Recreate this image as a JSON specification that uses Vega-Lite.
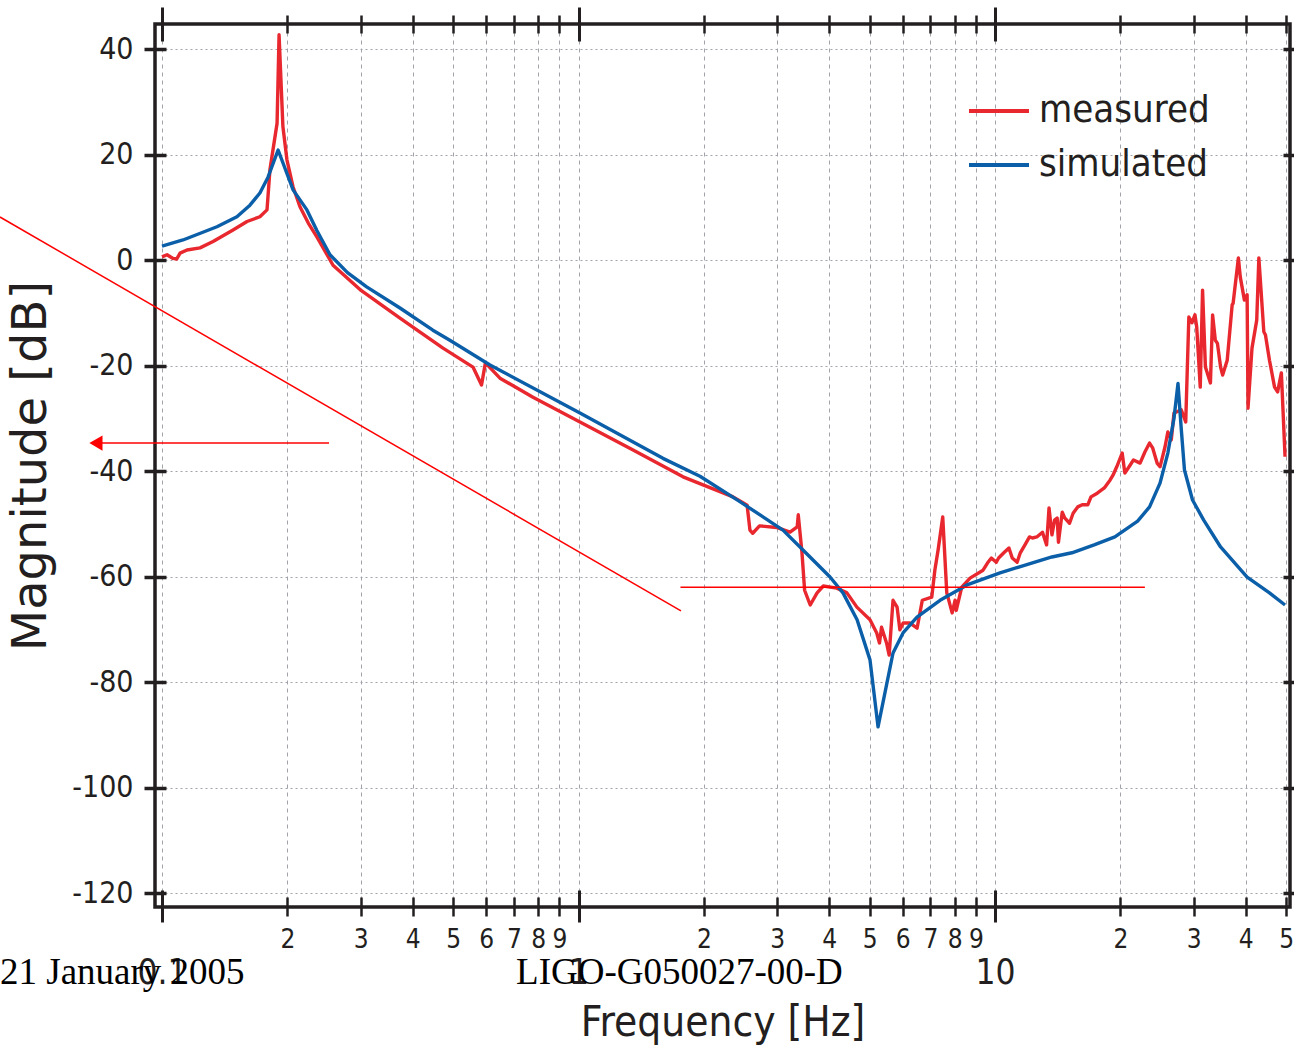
{
  "$schema": "https://vega.github.io/schema/vega-lite/v6.json",
  "width": 1135,
  "height": 883,
  "autosize": {"type": "none"},
  "padding": {"left": 155, "top": 24, "right": 4, "bottom": 146},
  "background": "white",
  "config": {
    "view": {"stroke": "#231f20", "strokeWidth": 3.5},
    "axis": {
      "domain": false,
      "gridColor": "#a0a4aa",
      "gridWidth": 1,
      "tickColor": "#231f20",
      "labelColor": "#231f20",
      "titleColor": "#231f20",
      "labelFont": "DejaVu Sans Condensed, Liberation Sans, sans-serif",
      "titleFont": "DejaVu Sans Condensed, Liberation Sans, sans-serif",
      "titleFontWeight": "normal",
      "labelFlush": false,
      "labelOverlap": false
    }
  },
  "resolve": {"axis": {"x": "independent", "y": "independent"}},
  "layer": [
    {
      "data": {"values": [
        {"f":0.1,"dB":0.6,"series":"measured"},
        {"f":0.1028,"dB":1.0,"series":"measured"},
        {"f":0.1063,"dB":0.3,"series":"measured"},
        {"f":0.1085,"dB":0.2,"series":"measured"},
        {"f":0.1105,"dB":1.3,"series":"measured"},
        {"f":0.1148,"dB":1.9,"series":"measured"},
        {"f":0.1234,"dB":2.3,"series":"measured"},
        {"f":0.1326,"dB":3.5,"series":"measured"},
        {"f":0.1481,"dB":5.7,"series":"measured"},
        {"f":0.16,"dB":7.3,"series":"measured"},
        {"f":0.1718,"dB":8.2,"series":"measured"},
        {"f":0.1787,"dB":9.5,"series":"measured"},
        {"f":0.1816,"dB":17.1,"series":"measured"},
        {"f":0.1889,"dB":25.9,"series":"measured"},
        {"f":0.191,"dB":42.7,"series":"measured"},
        {"f":0.1951,"dB":25.3,"series":"measured"},
        {"f":0.1995,"dB":19.0,"series":"measured"},
        {"f":0.2063,"dB":13.9,"series":"measured"},
        {"f":0.2144,"dB":10.1,"series":"measured"},
        {"f":0.2245,"dB":7.0,"series":"measured"},
        {"f":0.2354,"dB":4.4,"series":"measured"},
        {"f":0.2574,"dB":-1.0,"series":"measured"},
        {"f":0.2988,"dB":-5.6,"series":"measured"},
        {"f":0.3727,"dB":-11.0,"series":"measured"},
        {"f":0.4728,"dB":-16.7,"series":"measured"},
        {"f":0.558,"dB":-20.3,"series":"measured"},
        {"f":0.585,"dB":-23.7,"series":"measured"},
        {"f":0.5977,"dB":-19.5,"series":"measured"},
        {"f":0.6477,"dB":-22.4,"series":"measured"},
        {"f":0.7775,"dB":-26.0,"series":"measured"},
        {"f":1.008,"dB":-30.7,"series":"measured"},
        {"f":1.352,"dB":-36.0,"series":"measured"},
        {"f":1.782,"dB":-41.1,"series":"measured"},
        {"f":2.35,"dB":-44.9,"series":"measured"},
        {"f":2.47,"dB":-45.9,"series":"measured"},
        {"f":2.54,"dB":-46.5,"series":"measured"},
        {"f":2.58,"dB":-51.2,"series":"measured"},
        {"f":2.62,"dB":-51.8,"series":"measured"},
        {"f":2.72,"dB":-50.4,"series":"measured"},
        {"f":2.99,"dB":-50.7,"series":"measured"},
        {"f":3.22,"dB":-51.6,"series":"measured"},
        {"f":3.35,"dB":-50.6,"series":"measured"},
        {"f":3.37,"dB":-48.3,"series":"measured"},
        {"f":3.44,"dB":-55.5,"series":"measured"},
        {"f":3.49,"dB":-62.6,"series":"measured"},
        {"f":3.6,"dB":-65.4,"series":"measured"},
        {"f":3.74,"dB":-63.1,"series":"measured"},
        {"f":3.87,"dB":-61.8,"series":"measured"},
        {"f":4.17,"dB":-62.2,"series":"measured"},
        {"f":4.41,"dB":-63.1,"series":"measured"},
        {"f":4.66,"dB":-65.8,"series":"measured"},
        {"f":5.01,"dB":-68.2,"series":"measured"},
        {"f":5.2,"dB":-70.7,"series":"measured"},
        {"f":5.28,"dB":-72.6,"series":"measured"},
        {"f":5.34,"dB":-69.6,"series":"measured"},
        {"f":5.49,"dB":-72.6,"series":"measured"},
        {"f":5.57,"dB":-74.9,"series":"measured"},
        {"f":5.69,"dB":-64.5,"series":"measured"},
        {"f":5.82,"dB":-65.8,"series":"measured"},
        {"f":5.91,"dB":-70.1,"series":"measured"},
        {"f":6.02,"dB":-68.8,"series":"measured"},
        {"f":6.24,"dB":-68.8,"series":"measured"},
        {"f":6.5,"dB":-69.8,"series":"measured"},
        {"f":6.69,"dB":-64.5,"series":"measured"},
        {"f":7.05,"dB":-63.9,"series":"measured"},
        {"f":7.17,"dB":-58.8,"series":"measured"},
        {"f":7.3,"dB":-55.0,"series":"measured"},
        {"f":7.49,"dB":-48.7,"series":"measured"},
        {"f":7.66,"dB":-63.1,"series":"measured"},
        {"f":7.89,"dB":-66.9,"series":"measured"},
        {"f":8.02,"dB":-64.5,"series":"measured"},
        {"f":8.07,"dB":-66.4,"series":"measured"},
        {"f":8.32,"dB":-62.0,"series":"measured"},
        {"f":8.71,"dB":-60.3,"series":"measured"},
        {"f":9.36,"dB":-58.8,"series":"measured"},
        {"f":9.6,"dB":-57.4,"series":"measured"},
        {"f":9.8,"dB":-56.5,"series":"measured"},
        {"f":10.07,"dB":-57.3,"series":"measured"},
        {"f":10.2,"dB":-56.5,"series":"measured"},
        {"f":10.5,"dB":-55.5,"series":"measured"},
        {"f":10.8,"dB":-54.6,"series":"measured"},
        {"f":11.0,"dB":-56.5,"series":"measured"},
        {"f":11.3,"dB":-57.3,"series":"measured"},
        {"f":11.5,"dB":-55.5,"series":"measured"},
        {"f":11.8,"dB":-54.0,"series":"measured"},
        {"f":12.1,"dB":-52.5,"series":"measured"},
        {"f":12.3,"dB":-52.7,"series":"measured"},
        {"f":12.6,"dB":-52.5,"series":"measured"},
        {"f":13.0,"dB":-51.6,"series":"measured"},
        {"f":13.3,"dB":-54.0,"series":"measured"},
        {"f":13.48,"dB":-47.0,"series":"measured"},
        {"f":13.7,"dB":-52.1,"series":"measured"},
        {"f":13.9,"dB":-49.3,"series":"measured"},
        {"f":14.1,"dB":-48.9,"series":"measured"},
        {"f":14.2,"dB":-53.5,"series":"measured"},
        {"f":14.5,"dB":-47.8,"series":"measured"},
        {"f":14.7,"dB":-48.9,"series":"measured"},
        {"f":15.1,"dB":-49.9,"series":"measured"},
        {"f":15.4,"dB":-48.0,"series":"measured"},
        {"f":15.8,"dB":-46.8,"series":"measured"},
        {"f":16.2,"dB":-46.4,"series":"measured"},
        {"f":16.7,"dB":-46.4,"series":"measured"},
        {"f":17.0,"dB":-44.9,"series":"measured"},
        {"f":17.6,"dB":-44.2,"series":"measured"},
        {"f":18.3,"dB":-43.2,"series":"measured"},
        {"f":18.9,"dB":-41.7,"series":"measured"},
        {"f":19.2,"dB":-40.8,"series":"measured"},
        {"f":19.6,"dB":-39.2,"series":"measured"},
        {"f":20.2,"dB":-36.6,"series":"measured"},
        {"f":20.5,"dB":-40.4,"series":"measured"},
        {"f":21.1,"dB":-38.9,"series":"measured"},
        {"f":21.5,"dB":-37.9,"series":"measured"},
        {"f":22.3,"dB":-38.5,"series":"measured"},
        {"f":22.9,"dB":-36.4,"series":"measured"},
        {"f":23.5,"dB":-34.7,"series":"measured"},
        {"f":23.9,"dB":-35.6,"series":"measured"},
        {"f":24.5,"dB":-38.5,"series":"measured"},
        {"f":24.9,"dB":-39.2,"series":"measured"},
        {"f":25.6,"dB":-35.4,"series":"measured"},
        {"f":26.0,"dB":-32.6,"series":"measured"},
        {"f":26.5,"dB":-34.1,"series":"measured"},
        {"f":26.9,"dB":-29.0,"series":"measured"},
        {"f":28.0,"dB":-28.4,"series":"measured"},
        {"f":28.7,"dB":-30.7,"series":"measured"},
        {"f":29.2,"dB":-10.8,"series":"measured"},
        {"f":29.7,"dB":-11.9,"series":"measured"},
        {"f":30.2,"dB":-10.4,"series":"measured"},
        {"f":30.5,"dB":-12.7,"series":"measured"},
        {"f":31.1,"dB":-24.1,"series":"measured"},
        {"f":31.5,"dB":-5.7,"series":"measured"},
        {"f":32.0,"dB":-20.3,"series":"measured"},
        {"f":32.9,"dB":-23.3,"series":"measured"},
        {"f":33.3,"dB":-10.4,"series":"measured"},
        {"f":33.8,"dB":-15.2,"series":"measured"},
        {"f":34.2,"dB":-15.8,"series":"measured"},
        {"f":34.8,"dB":-20.3,"series":"measured"},
        {"f":35.2,"dB":-21.8,"series":"measured"},
        {"f":36.1,"dB":-19.0,"series":"measured"},
        {"f":37.1,"dB":-8.5,"series":"measured"},
        {"f":37.3,"dB":-8.2,"series":"measured"},
        {"f":38.4,"dB":0.4,"series":"measured"},
        {"f":38.8,"dB":-3.2,"series":"measured"},
        {"f":39.7,"dB":-7.6,"series":"measured"},
        {"f":40.3,"dB":-6.6,"series":"measured"},
        {"f":40.5,"dB":-28.1,"series":"measured"},
        {"f":41.4,"dB":-16.7,"series":"measured"},
        {"f":42.5,"dB":-11.4,"series":"measured"},
        {"f":43.0,"dB":0.4,"series":"measured"},
        {"f":44.2,"dB":-13.6,"series":"measured"},
        {"f":44.6,"dB":-14.2,"series":"measured"},
        {"f":45.6,"dB":-19.0,"series":"measured"},
        {"f":46.9,"dB":-24.1,"series":"measured"},
        {"f":47.7,"dB":-25.0,"series":"measured"},
        {"f":48.7,"dB":-21.4,"series":"measured"},
        {"f":48.9,"dB":-24.6,"series":"measured"},
        {"f":49.7,"dB":-37.3,"series":"measured"},
        {"f":0.1,"dB":2.65,"series":"simulated"},
        {"f":0.1123,"dB":3.8,"series":"simulated"},
        {"f":0.1355,"dB":6.3,"series":"simulated"},
        {"f":0.1513,"dB":8.2,"series":"simulated"},
        {"f":0.1626,"dB":10.4,"series":"simulated"},
        {"f":0.1718,"dB":12.7,"series":"simulated"},
        {"f":0.1797,"dB":15.7,"series":"simulated"},
        {"f":0.19,"dB":20.85,"series":"simulated"},
        {"f":0.2064,"dB":13.3,"series":"simulated"},
        {"f":0.2228,"dB":9.5,"series":"simulated"},
        {"f":0.2354,"dB":5.6,"series":"simulated"},
        {"f":0.2531,"dB":1.0,"series":"simulated"},
        {"f":0.2788,"dB":-2.4,"series":"simulated"},
        {"f":0.31,"dB":-5.1,"series":"simulated"},
        {"f":0.3727,"dB":-9.1,"series":"simulated"},
        {"f":0.447,"dB":-13.3,"series":"simulated"},
        {"f":0.491,"dB":-15.2,"series":"simulated"},
        {"f":0.613,"dB":-19.9,"series":"simulated"},
        {"f":1.008,"dB":-29.0,"series":"simulated"},
        {"f":1.595,"dB":-37.6,"series":"simulated"},
        {"f":1.957,"dB":-41.0,"series":"simulated"},
        {"f":2.44,"dB":-45.8,"series":"simulated"},
        {"f":3.097,"dB":-51.2,"series":"simulated"},
        {"f":3.596,"dB":-56.3,"series":"simulated"},
        {"f":4.017,"dB":-60.1,"series":"simulated"},
        {"f":4.315,"dB":-63.1,"series":"simulated"},
        {"f":4.665,"dB":-68.2,"series":"simulated"},
        {"f":5.01,"dB":-75.8,"series":"simulated"},
        {"f":5.238,"dB":-88.5,"series":"simulated"},
        {"f":5.69,"dB":-74.5,"series":"simulated"},
        {"f":6.014,"dB":-70.7,"series":"simulated"},
        {"f":6.496,"dB":-67.7,"series":"simulated"},
        {"f":7.38,"dB":-64.5,"series":"simulated"},
        {"f":8.567,"dB":-61.6,"series":"simulated"},
        {"f":10.28,"dB":-59.3,"series":"simulated"},
        {"f":11.4,"dB":-58.2,"series":"simulated"},
        {"f":13.7,"dB":-56.3,"series":"simulated"},
        {"f":15.3,"dB":-55.5,"series":"simulated"},
        {"f":17.3,"dB":-54.0,"series":"simulated"},
        {"f":19.4,"dB":-52.5,"series":"simulated"},
        {"f":22.0,"dB":-49.5,"series":"simulated"},
        {"f":23.5,"dB":-46.8,"series":"simulated"},
        {"f":24.9,"dB":-42.3,"series":"simulated"},
        {"f":26.0,"dB":-36.6,"series":"simulated"},
        {"f":26.9,"dB":-30.0,"series":"simulated"},
        {"f":27.5,"dB":-23.4,"series":"simulated"},
        {"f":28.0,"dB":-32.0,"series":"simulated"},
        {"f":28.5,"dB":-39.8,"series":"simulated"},
        {"f":29.8,"dB":-45.5,"series":"simulated"},
        {"f":31.7,"dB":-49.3,"series":"simulated"},
        {"f":34.8,"dB":-54.4,"series":"simulated"},
        {"f":40.3,"dB":-60.1,"series":"simulated"},
        {"f":45.6,"dB":-63.1,"series":"simulated"},
        {"f":49.7,"dB":-65.4,"series":"simulated"}
      ]},
      "mark": {"type": "line", "strokeWidth": 3.4, "strokeJoin": "round"},
      "encoding": {
        "x": {
          "field": "f", "type": "quantitative",
          "scale": {"type": "log", "domain": [0.0962, 51.08], "nice": false},
          "axis": {
            "orient": "bottom", "values": [0.1, 1, 10], "format": "~g",
            "offset": -17, "tickSize": 32, "tickWidth": 3,
            "labelFontSize": 35, "labelPadding": 33,
            "grid": true, "gridDash": [4, 4],
            "title": "Frequency [Hz]", "titleFontSize": 42, "titlePadding": 12
          }
        },
        "y": {
          "field": "dB", "type": "quantitative",
          "scale": {"domain": [-122.65, 44.74], "nice": false, "zero": false},
          "axis": {
            "orient": "left", "values": [-120, -100, -80, -60, -40, -20, 0, 20, 40],
            "labelExpr": "'' + datum.value",
            "offset": -11, "tickSize": 22, "tickWidth": 3.5,
            "labelFontSize": 30, "labelPadding": 11,
            "grid": true, "gridDash": [2, 3],
            "title": "Magnitude [dB]", "titleFont": "DejaVu Sans", "titleFontSize": 48, "titlePadding": 16
          }
        },
        "color": {
          "field": "series", "type": "nominal",
          "scale": {"domain": ["measured", "simulated"], "range": ["#e8282e", "#0b5ea8"]},
          "legend": {
            "orient": "none", "legendX": 812, "legendY": 55, "title": null,
            "symbolType": "stroke", "symbolSize": 3600, "symbolStrokeWidth": 4,
            "labelFontSize": 38, "labelFont": "DejaVu Sans Condensed, Liberation Sans, sans-serif",
            "labelColor": "#231f20", "labelOffset": 8, "padding": 0, "rowPadding": 3, "labelLimit": 400
          }
        }
      }
    },
    {
      "data": {"values": [{}]},
      "mark": {"type": "rule", "color": "#ff0000", "strokeWidth": 1.5},
      "encoding": {
        "x": {
          "datum": 0.04083, "type": "quantitative",
          "scale": {"type": "log", "domain": [0.0962, 51.08], "nice": false},
          "axis": {
            "orient": "bottom", "values": [0.2, 0.3, 0.4, 0.5, 0.6, 0.7, 0.8, 0.9, 2, 3, 4, 5, 6, 7, 8, 9, 20, 30, 40, 50],
            "labelExpr": "'' + round(datum.value / pow(10, floor(log(datum.value) / LN10 + 0.000001)))",
            "offset": -10, "tickSize": 19, "tickWidth": 2.5,
            "labelFontSize": 26, "labelPadding": 10,
            "grid": true, "gridDash": [4, 4], "title": null
          }
        },
        "x2": {"datum": 1.762},
        "y": {
          "datum": 8.15, "type": "quantitative",
          "scale": {"domain": [-122.65, 44.74], "nice": false, "zero": false},
          "axis": {
            "orient": "right", "values": [-120, -100, -80, -60, -40, -20, 0, 20, 40],
            "offset": -7, "tickSize": 16, "tickWidth": 3.5,
            "labels": false, "grid": false, "title": null
          }
        },
        "y2": {"datum": -66.5}
      }
    },
    {
      "data": {"values": [{}]},
      "mark": {"type": "rule", "color": "#ff0000", "strokeWidth": 1.5},
      "encoding": {
        "x": {
          "datum": 1.757, "type": "quantitative",
          "scale": {"type": "log", "domain": [0.0962, 51.08], "nice": false},
          "axis": {
            "orient": "top", "values": [0.1, 1, 10],
            "offset": -17, "tickSize": 34, "tickWidth": 3,
            "labels": false, "grid": false, "title": null
          }
        },
        "x2": {"datum": 22.9},
        "y": {
          "datum": -62.05, "type": "quantitative",
          "scale": {"domain": [-122.65, 44.74], "nice": false, "zero": false},
          "axis": null
        }
      }
    },
    {
      "data": {"values": [{}]},
      "mark": {"type": "rule", "color": "#ff0000", "strokeWidth": 1.5},
      "encoding": {
        "x": {
          "datum": 0.2518, "type": "quantitative",
          "scale": {"type": "log", "domain": [0.0962, 51.08], "nice": false},
          "axis": {
            "orient": "top", "values": [0.2, 0.3, 0.4, 0.5, 0.6, 0.7, 0.8, 0.9, 2, 3, 4, 5, 6, 7, 8, 9, 20, 30, 40, 50],
            "offset": -9, "tickSize": 18, "tickWidth": 2.5,
            "labels": false, "grid": false, "title": null
          }
        },
        "x2": {"datum": 0.0694},
        "y": {
          "datum": -34.7, "type": "quantitative",
          "scale": {"domain": [-122.65, 44.74], "nice": false, "zero": false},
          "axis": null
        }
      }
    },
    {
      "data": {"values": [{}]},
      "mark": {"type": "point", "shape": "triangle-left", "filled": true, "color": "#ff0000", "size": 230, "opacity": 1},
      "encoding": {
        "x": {
          "datum": 0.0694, "type": "quantitative",
          "scale": {"type": "log", "domain": [0.0962, 51.08], "nice": false},
          "axis": null
        },
        "y": {
          "datum": -34.7, "type": "quantitative",
          "scale": {"domain": [-122.65, 44.74], "nice": false, "zero": false},
          "axis": null
        }
      }
    },
    {
      "data": {"values": [{}]},
      "mark": {"type": "text", "text": "21 January 2005", "font": "Liberation Serif", "fontSize": 37, "align": "left", "baseline": "alphabetic", "color": "#000000"},
      "encoding": {
        "x": {
          "datum": 0.04083, "type": "quantitative",
          "scale": {"type": "log", "domain": [0.0962, 51.08], "nice": false},
          "axis": null
        },
        "y": {
          "datum": -137.2, "type": "quantitative",
          "scale": {"domain": [-122.65, 44.74], "nice": false, "zero": false},
          "axis": null
        }
      }
    },
    {
      "data": {"values": [{}]},
      "mark": {"type": "text", "text": "LIGO-G050027-00-D", "font": "Liberation Serif", "fontSize": 37, "align": "left", "baseline": "alphabetic", "color": "#000000"},
      "encoding": {
        "x": {
          "datum": 0.708, "type": "quantitative",
          "scale": {"type": "log", "domain": [0.0962, 51.08], "nice": false},
          "axis": null
        },
        "y": {
          "datum": -137.3, "type": "quantitative",
          "scale": {"domain": [-122.65, 44.74], "nice": false, "zero": false},
          "axis": null
        }
      }
    }
  ]
}
